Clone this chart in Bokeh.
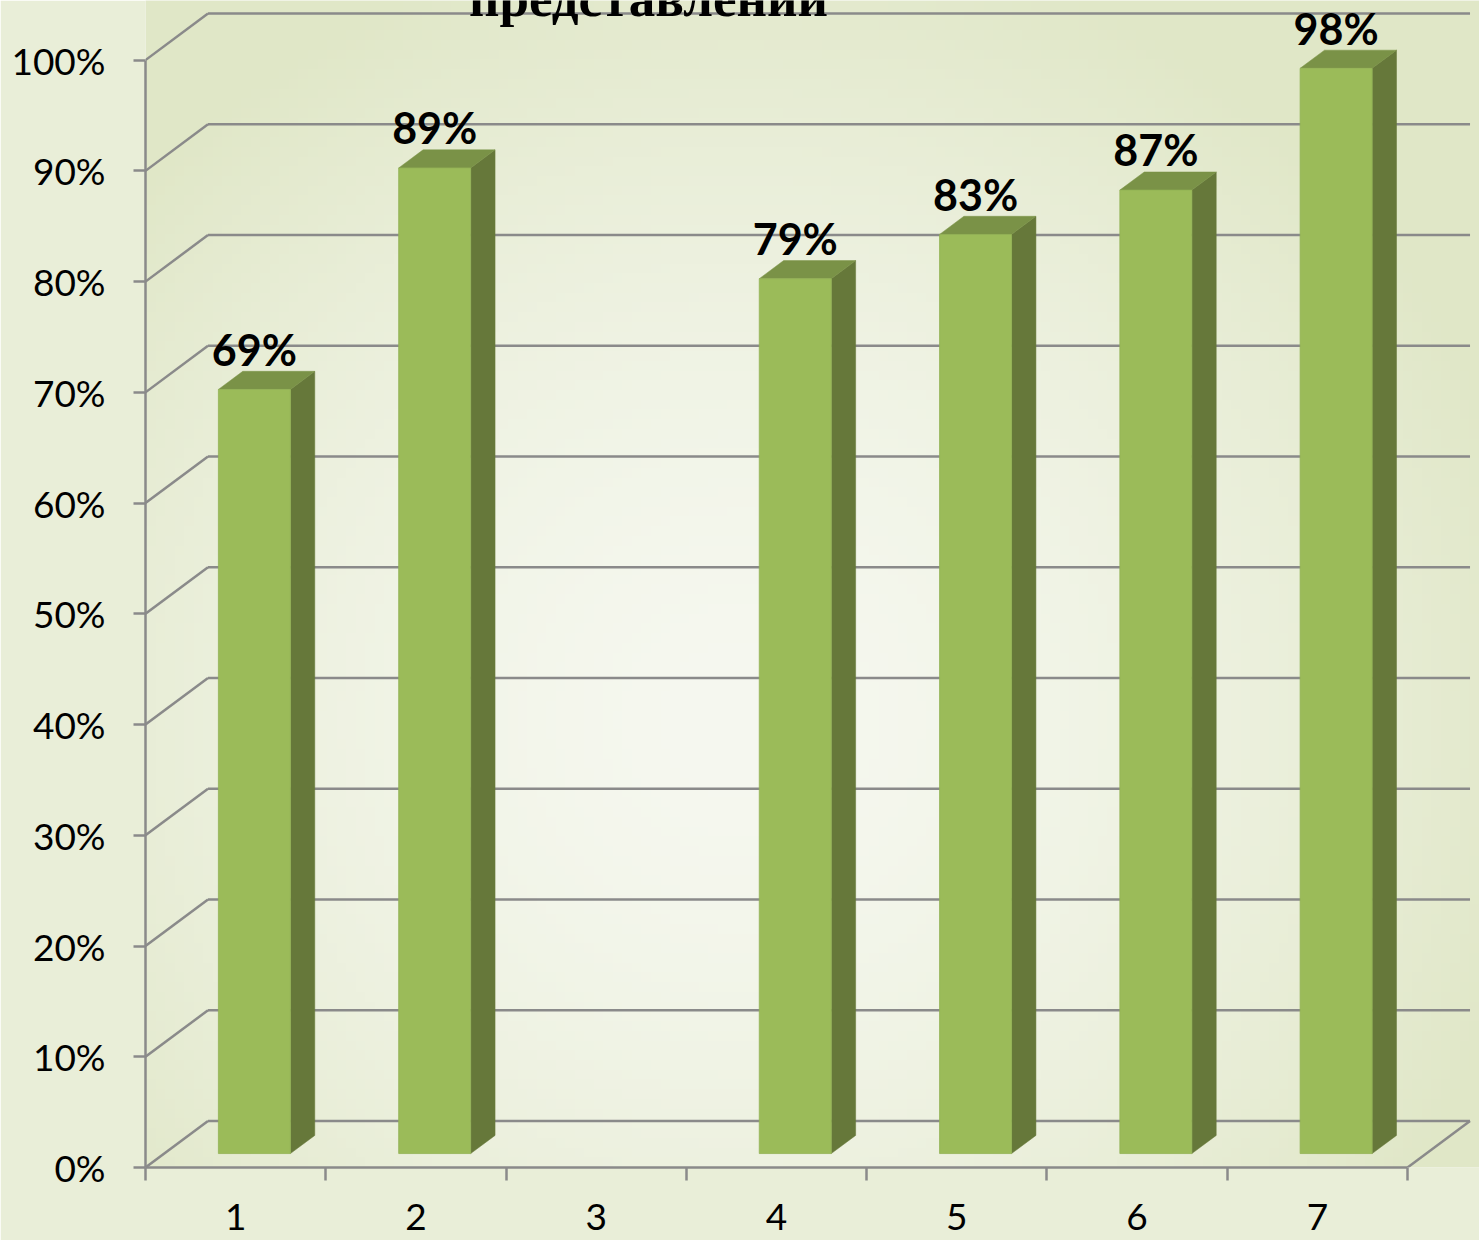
import numpy as np
from bokeh.plotting import figure
from bokeh.models import Range1d, FixedTicker
from bokeh.core.properties import value
from bokeh.embed import file_html
from bokeh.resources import INLINE

# ---------------- data ----------------
categories = ["1", "2", "3", "4", "5", "6", "7"]
percent_values = [69, 89, None, 79, 83, 87, 98]
value_labels = ["69%", "89%", "", "79%", "83%", "87%", "98%"]
y_ticks = [0, 10, 20, 30, 40, 50, 60, 70, 80, 90, 100]
y_tick_labels = ["0%", "10%", "20%", "30%", "40%", "50%", "60%", "70%", "80%", "90%", "100%"]
title_text = "представлений"

# ---------------- style / geometry ----------------
W, H = 1479, 1240
ML, MB = 145, 73
PX_X = 180.29          # pixels per category unit
PX_Y = 11.074          # pixels per percent
X0, X1 = 0.5, 7.5
X_END = X0 + (W - ML) / PX_X
Y_END = (H - MB) / PX_Y
DX, DY = 62.5 / PX_X, 46.5 / PX_Y      # depth of the 3D wall
BAR_W = 72 / PX_X
F0, F1 = 0.30, 0.69                     # bar depth position (fraction of wall depth)
GRID = "#8a8a8a"
FRONT, SIDE, TOP = "#9bbb59", "#66783a", "#7a9247"

p = figure(width=W, height=H, x_range=Range1d(X0, X_END), y_range=Range1d(0, Y_END),
           output_backend="svg", toolbar_location=None,
           min_border_left=ML, min_border_bottom=MB, min_border_top=0, min_border_right=0,
           outline_line_color=None, border_fill_color="#e9eed8",
           background_fill_color="#eef2e2")
p.xgrid.visible = False
p.ygrid.visible = False

# ---------------- background radial gradient ----------------
nx, ny = 140, 120
px = ML + (np.arange(nx) + 0.5) / nx * (W - ML)
py = (H - MB) - (np.arange(ny) + 0.5) / ny * (H - MB)
PX, PY = np.meshgrid(px, py)
r = np.sqrt(((PX - 740) / 820) ** 2 + ((PY - 720) / 800) ** 2)
t = np.clip(r, 0, 1) ** 1.6
c0 = np.array([246, 248, 240])
c1 = np.array([224, 231, 199])
rgb = (c0[None, None, :] * (1 - t[..., None]) + c1[None, None, :] * t[..., None]).astype(np.uint8)
img = np.empty((ny, nx), dtype=np.uint32)
view = img.view(dtype=np.uint8).reshape((ny, nx, 4))
view[..., 0] = rgb[..., 0]
view[..., 1] = rgb[..., 1]
view[..., 2] = rgb[..., 2]
view[..., 3] = 255
p.image_rgba(image=[img], x=X0, y=0, dw=X_END - X0, dh=Y_END)

# ---------------- 3D walls / gridlines ----------------
sx0, sy0, sx1, sy1 = [], [], [], []
for tk in y_ticks:
    sx0 += [X0, X0 + DX]
    sy0 += [tk, tk + DY]
    sx1 += [X0 + DX, X1 + DX]
    sy1 += [tk + DY, tk + DY]
sx0.append(X1); sy0.append(0); sx1.append(X1 + DX); sy1.append(DY)
p.segment(x0=sx0, y0=sy0, x1=sx1, y1=sy1, line_color=GRID, line_width=2.5)

# ---------------- bars ----------------
side_xs, side_ys, top_xs, top_ys = [], [], [], []
fl, fr, fb, ft = [], [], [], []
lx, ly, lt = [], [], []
bx, by = (F1 - F0) * DX, (F1 - F0) * DY
for i, (cat, v) in enumerate(zip(categories, percent_values)):
    if v is None:
        continue
    c = i + 1
    xl = c + F0 * DX - BAR_W / 2
    xr = xl + BAR_W
    yb = F0 * DY
    yt = v + F0 * DY
    fl.append(xl); fr.append(xr); fb.append(yb); ft.append(yt)
    side_xs.append([xr, xr + bx, xr + bx, xr])
    side_ys.append([yb, yb + by, yt + by, yt])
    top_xs.append([xl, xl + bx, xr + bx, xr])
    top_ys.append([yt, yt + by, yt + by, yt])
    lx.append(c + F0 * DX)
    ly.append(v + F1 * DY)
    lt.append(value_labels[i])

p.patches(xs=side_xs, ys=side_ys, fill_color=SIDE, line_color=SIDE, line_width=0.5)
p.patches(xs=top_xs, ys=top_ys, fill_color=TOP, line_color=TOP, line_width=0.5)
p.quad(left=fl, right=fr, bottom=fb, top=ft, fill_color=FRONT, line_color="#93b255", line_width=0.8)

p.text(x=lx, y=ly, text=lt, text_align="center", text_baseline="alphabetic", y_offset=-22,
       text_font=value("Lato"), text_font_style="bold", text_font_size="43px", text_color="black")

# ---------------- title (cut off at top, as in the original) ----------------
p.text(x=[X0 + (648 - ML) / PX_X], y=[(H - MB - 15) / PX_Y], text=[title_text],
       text_align="center", text_baseline="alphabetic", y_offset=-18,
       text_font=value("Liberation Serif"), text_font_style="bold", text_font_size="53px",
       text_color="black")

# ---------------- axes ----------------
ya = p.yaxis[0]
ya.ticker = FixedTicker(ticks=y_ticks)
ya.major_label_overrides = {tk: lab for tk, lab in zip(y_ticks, y_tick_labels)}
ya.bounds = (0, 100)
ya.axis_line_color = GRID
ya.axis_line_width = 2.5
ya.major_tick_line_color = GRID
ya.major_tick_line_width = 2.5
ya.major_tick_out = 12
ya.major_tick_in = 0
ya.minor_tick_line_color = None
ya.major_label_standoff = 28
ya.major_label_text_font = "Lato"
ya.major_label_text_font_size = "37px"
ya.major_label_text_color = "black"

xa = p.xaxis[0]
cat_pos = [i + 1 for i in range(len(categories))]
xa.ticker = FixedTicker(ticks=cat_pos, minor_ticks=[k + 0.5 for k in range(len(categories) + 1)])
xa.major_label_overrides = {pos: cat for pos, cat in zip(cat_pos, categories)}
xa.bounds = (X0, X1)
xa.axis_line_color = GRID
xa.axis_line_width = 2.5
xa.major_tick_line_color = None
xa.major_tick_out = 0
xa.major_tick_in = 0
xa.minor_tick_line_color = GRID
xa.minor_tick_line_width = 2.5
xa.minor_tick_out = 13
xa.minor_tick_in = 0
xa.major_label_standoff = 23
xa.major_label_text_font = "Lato"
xa.major_label_text_font_size = "37px"
xa.major_label_text_color = "black"

open("out.html", "w").write(file_html(p, INLINE))
